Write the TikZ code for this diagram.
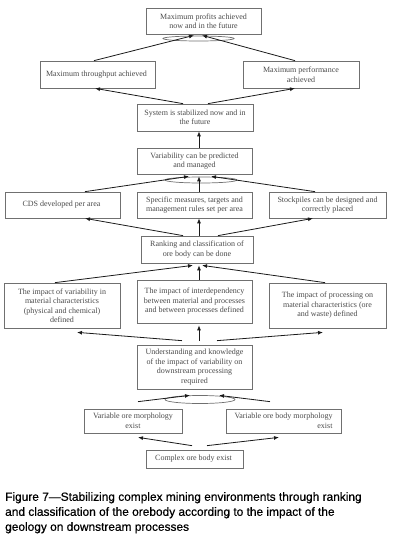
\documentclass[tikz,border=0pt]{standalone}
\usepackage{fontspec}
\setmainfont{Liberation Serif}
\newfontfamily\capfont[FakeBold=0.5]{Liberation Sans}
\usetikzlibrary{arrows.meta,positioning,shapes.geometric}
\definecolor{boxline}{HTML}{707070}
\definecolor{boxtext}{HTML}{4A4A4A}
\definecolor{linkblack}{HTML}{1A1A1A}

\begin{document}
\begin{tikzpicture}[x=1pt, y=-1pt,
  every node/.style={font=\fontsize{8}{9.5}\selectfont},
  box/.style={draw=boxline, line width=0.7pt, rectangle, text=boxtext, align=center, inner sep=1pt},
  andring/.style={draw=boxline, line width=0.7pt, ellipse, inner sep=0pt},
  link/.style={-{Latex[length=5pt,width=4pt]}, line width=0.8pt, draw=linkblack}]
  \useasboundingbox (0,0) rectangle (404,540);

  % Goal
  \node[box, minimum width=115pt, minimum height=26pt] (profit) at (203.5,21) {
    Maximum profits achieved\\
    now and in the future
  };
  \node[andring, minimum width=71pt, minimum height=5pt] (andtop) at (198.5,38.5) {};

  % Second level
  \node[box, minimum width=115pt, minimum height=27pt] (throughput) at (97.5,74.5) {
    Maximum throughput achieved
  };
  \node[box, minimum width=116pt, minimum height=27pt] (performance) at (301,74.5) {
    Maximum performance\\
    achieved
  };

  % Stable system
  \node[box, minimum width=116pt, minimum height=27pt] (system) at (195,117.5) {
    System is stabilized now and in\\
    the future
  };
  \node[box, minimum width=115pt, minimum height=26pt] (variability) at (194.5,161) {
    Variability can be predicted\\
    and managed
  };
  \node[andring, minimum width=72pt, minimum height=6pt] (andmid) at (201,180) {};

  % Per area
  \node[box, minimum width=115pt, minimum height=26pt] (cds) at (62.5,205) {
    CDS developed per area
  };
  \node[box, minimum width=115pt, minimum height=26pt] (specific) at (194.5,205) {
    Specific measures, targets and\\
    management rules set per area
  };
  \node[box, minimum width=117pt, minimum height=26pt] (stockpiles) at (327.5,205) {
    Stockpiles can be designed and\\
    correctly placed
  };

  % Ranking
  \node[box, minimum width=112pt, minimum height=27pt] (ranking) at (197,249.5) {
    Ranking and classification of\\
    ore body can be done
  };

  % Impacts
  \node[box, minimum width=116pt, minimum height=45pt] (varimpact) at (62,305.5) {
    The impact of variability in\\
    material characteristics\\
    (physical and chemical)\\
    defined
  };
  \node[box, minimum width=115pt, minimum height=43pt] (interdep) at (194.5,301.5) {
    The impact of interdependency\\
    between material and processes\\
    and between processes defined
  };
  \node[box, minimum width=117pt, minimum height=45pt] (processing) at (327.5,305.5) {
    The impact of processing on\\
    material characteristics (ore\\
    and waste) defined
  };

  % Understanding
  \node[box, minimum width=115pt, minimum height=44pt] (understanding) at (194.5,367) {
    Understanding and knowledge\\
    of the impact of variability on\\
    downstream processing\\
    required
  };
  \node[andring, minimum width=70pt, minimum height=8pt] (andbot) at (200,399.5) {};

  % Ore body
  \node[box, minimum width=98pt, minimum height=24pt] (oremorph) at (133,421) {
    Variable ore morphology\\
    exist
  };
  \node[box, align=right, minimum width=115pt, minimum height=24pt] (orebody) at (283.5,421) {
    Variable ore body morphology\\
    exist
  };
  \node[box, minimum width=97pt, minimum height=18pt] (complex) at (194.5,459) {
    Complex ore body exist
  };

  % Arrows
  \draw[link] ([xshift=-3.5pt]throughput.north) -- ([xshift=-9.5pt, yshift=-1pt]profit.south);
  \draw[link] ([xshift=-6pt]performance.north) -- ([xshift=-1.5pt, yshift=-1pt]profit.south);
  \draw[link] ([xshift=-12pt]system.north) -- ([xshift=-2.5pt]throughput.south);
  \draw[link] ([xshift=13pt]system.north) -- ([xshift=-6pt]performance.south);
  \draw[link] ([xshift=4.5pt]variability.north) -- ([xshift=4pt]system.south);
  \draw[link] ([xshift=22.5pt]cds.north) -- ([xshift=-5.5pt, yshift=-2pt]variability.south);
  \draw[link] ([xshift=4.5pt]specific.north) -- ([xshift=4.5pt, yshift=-2pt]variability.south);
  \draw[link] ([xshift=-12.5pt]stockpiles.north) -- ([xshift=16.5pt, yshift=-2pt]variability.south);
  \draw[link] ([xshift=-14pt]ranking.north) -- ([xshift=22.5pt]cds.south);
  \draw[link] ([xshift=2pt]ranking.north) -- ([xshift=4.5pt]specific.south);
  \draw[link] ([xshift=21pt]ranking.north) -- ([xshift=-14.5pt]stockpiles.south);
  \draw[link] ([xshift=-7pt]varimpact.north) -- ([xshift=-4pt, yshift=-2pt]ranking.south);
  \draw[link] ([xshift=4.5pt]interdep.north) -- ([xshift=2pt, yshift=-2pt]ranking.south);
  \draw[link] ([xshift=-2.5pt]processing.north) -- ([xshift=5pt, yshift=-2pt]ranking.south);
  \draw[link] ([xshift=-12.5pt, yshift=4pt]understanding.north) -- ([xshift=15pt, yshift=-4pt]varimpact.south);
  \draw[link] ([xshift=4.5pt, yshift=4pt]understanding.north) -- ([xshift=4.5pt, yshift=-2pt]interdep.south);
  \draw[link] ([xshift=22.5pt, yshift=4pt]understanding.north) -- ([xshift=-4.5pt, yshift=-4pt]processing.south);
  \draw[link] ([xshift=5pt, yshift=7pt]oremorph.north) -- ([xshift=-4.5pt, yshift=-6pt]understanding.south);
  \draw[link] ([xshift=-13.5pt, yshift=7pt]orebody.north) -- ([xshift=24.5pt, yshift=-6pt]understanding.south);
  \draw[link] ([xshift=-2.5pt, yshift=4pt]complex.north) -- ([xshift=5pt, yshift=-4pt]oremorph.south);
  \draw[link] ([xshift=12.5pt, yshift=4pt]complex.north) -- ([xshift=-4.5pt, yshift=-4pt]orebody.south);

  % Caption
  \node[anchor=north west, align=left, inner sep=0pt, font=\capfont\fontsize{11.9}{15}\selectfont] (caption) at (5,492) {
    Figure 7—Stabilizing complex mining environments through ranking\\
    and classification of the orebody according to the impact of the\\
    geology on downstream processes
  };
\end{tikzpicture}
\end{document}
